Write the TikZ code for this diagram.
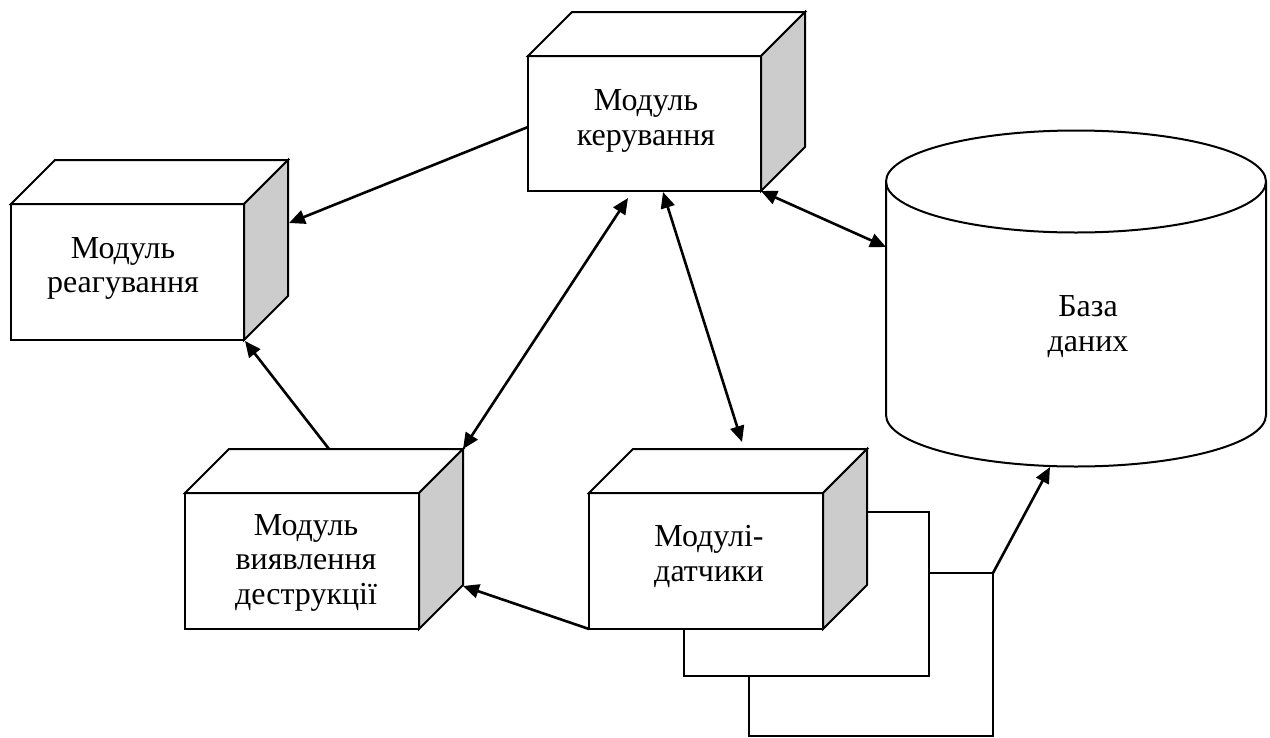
\documentclass[tikz,border=0pt]{standalone}
\usepackage{fontspec}
\setmainfont{Liberation Serif}
\usetikzlibrary{arrows.meta,calc}

\definecolor{sidegray}{HTML}{CCCCCC}

\tikzset{
  edge/.style={line width=2pt, line join=miter},
  face/.style={edge, draw=black, fill=white, rectangle, inner sep=0pt, outer sep=0pt, anchor=north west},
  label/.style={align=center, inner sep=0pt, font=\fontsize{32}{34.5}\selectfont},
  tip/.tip={Triangle[length=16pt,width=14pt]},
  link/.style={line width=2.6pt, -tip},
  dlink/.style={line width=2.6pt, tip-tip},
}

% a box drawn as a cube: front face node, top face and shaded side face
% #1 name, #2 x, #3 y (top-left corner of the front face), #4 width, #5 height
\newcommand\cubebox[5]{%
  \node[face, minimum width=#4pt, minimum height=#5pt] (#1) at (#2,#3) {};
  \draw[edge, fill=white] (#1.north west) -- ++(44,-44) -- ++(#4,0) -- (#1.north east) -- cycle;
  \draw[edge, fill=sidegray] (#1.north east) -- ++(44,-44) -- ++(0,#5) -- (#1.south east) -- cycle;
  \coordinate (#1-tr) at ($(#1.north east)+(44,-44)$);
}

\begin{document}
\begin{tikzpicture}[x=1pt, y=-1pt]
\useasboundingbox (0,0) rectangle (1270,737);

% stacked sheets behind the sensor modules
\node[face, minimum width=244pt, minimum height=163pt] (sheetB) at (749,573) {};
\node[face, minimum width=245pt, minimum height=164pt] (sheetA) at (684,512) {};

% the four modules
\cubebox{ker}{528}{56}{233}{135}
\cubebox{rea}{11}{204}{233}{136}
\cubebox{vyy}{185}{493}{234}{136}
\cubebox{dat}{589}{493}{234}{136}

\node[label] (kerT) at (646,121) {Модуль\\керування};
\node[label] (reaT) at (123,268.5) {Модуль\\реагування};
\node[label] (vyyT) at (306,562.5) {Модуль\\виявлення\\деструкції};
\node[label] (datT) at (709,556.5) {Модулі-\\датчики};

% database cylinder
\draw[edge, fill=white]
  (886,181.5) -- (886,415)
  .. controls (886,443.4) and (971.1,466.5) .. (1076,466.5)
  .. controls (1180.9,466.5) and (1266,443.4) .. (1266,415)
  -- (1266,181.5);
\draw[edge] (1076,181.5) ellipse [x radius=190, y radius=51];
\node[label] (db) at (1088,326.5) {База\\даних};
\coordinate (dbW) at (886,247);
\coordinate (dbS) at (1050,467);

% connections
\coordinate (kerW) at ($(ker.north west)!0.526!(ker.south west)$);
\coordinate (reaE) at (289,223);
\draw[link] (kerW) -- (reaE);

\coordinate (kerS1) at (628,198);
\draw[dlink] (kerS1) -- (vyy-tr);

\coordinate (kerS2) at (663,192);
\coordinate (datN) at (742,442);
\draw[dlink] (kerS2) -- (datN);

\draw[dlink] (ker.south east) -- (dbW);

\coordinate (vyyN) at (329,449);
\coordinate (reaSE) at (245,341);
\draw[link] (vyyN) -- (reaSE);

\coordinate (vyyE) at (463,586);
\draw[link] (dat.south west) -- (vyyE);

\draw[link] (sheetB.north east) -- (dbS);

\end{tikzpicture}
\end{document}
